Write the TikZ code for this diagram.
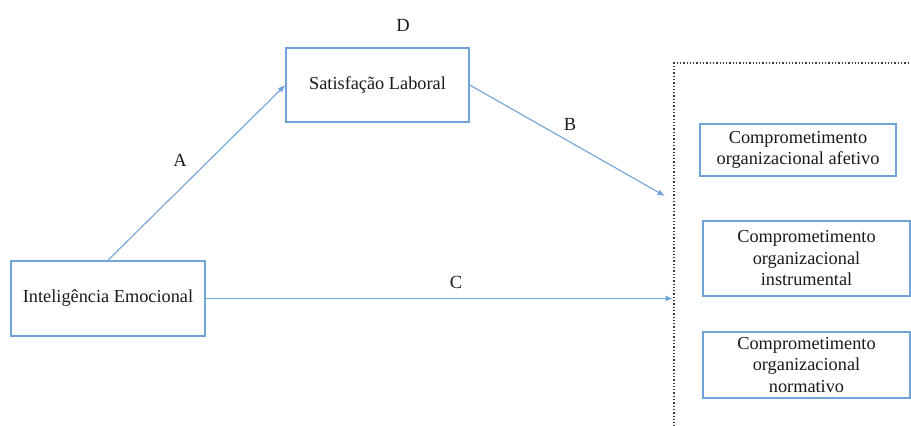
\documentclass[tikz,border=0pt]{standalone}
\usepackage{fontspec}
\setmainfont{Liberation Serif}
\definecolor{edgeblue}{HTML}{6FA3DA}
\definecolor{framegray}{HTML}{3A3A3A}
\definecolor{labeltext}{HTML}{1A1A1A}
\usetikzlibrary{positioning, arrows.meta}

\begin{document}
\begin{tikzpicture}[x=1pt, y=-1pt,
    box/.style={draw=edgeblue, line width=1.4pt, fill=white, align=center, text=labeltext,
                font=\fontsize{18.3}{21.5}\selectfont, inner sep=2pt},
    arr/.style={-{Latex[length=7.5pt, width=6pt]}, edgeblue, line width=1.1pt},
    lbl/.style={font=\fontsize{18.5}{21}\selectfont, text=labeltext, inner sep=0pt},
    frame/.style={draw=framegray, dotted, line width=1.3pt}]
    \useasboundingbox (0,0) rectangle (911,426);
    \draw[frame] (674,430) |- (913,63);
    \node[box, minimum width=194pt, minimum height=75pt] (ie) at (108,298.5) {Inteligência Emocional};
    \node[box, minimum width=183pt, minimum height=74pt] (sl) at (377.5,85) {Satisfação Laboral};
    \node[box, minimum width=196pt, minimum height=52pt] (caf) at (798,150) {Comprometimento\\organizacional afetivo};
    \node[box, minimum width=207pt, minimum height=75pt] (cin) at (806.5,258.5) {Comprometimento\\organizacional\\instrumental};
    \node[box, minimum width=207pt, minimum height=66pt] (cno) at (806.5,365) {Comprometimento\\organizacional\\normativo};
    \coordinate (bend) at (665,196);
    \coordinate (cend) at (673,298.5);
    \draw[arr] (ie.north) -- (sl.west);
    \draw[arr] (sl.east) -- (bend);
    \draw[arr] (ie.east) -- (cend);
    \node[lbl] (la) at (180,160) {A};
    \node[lbl] (lb) at (570,124) {B};
    \node[lbl] (lc) at (456,282) {C};
    \node[lbl] (ld) at (403,25) {D};
  \end{tikzpicture}
\end{document}
